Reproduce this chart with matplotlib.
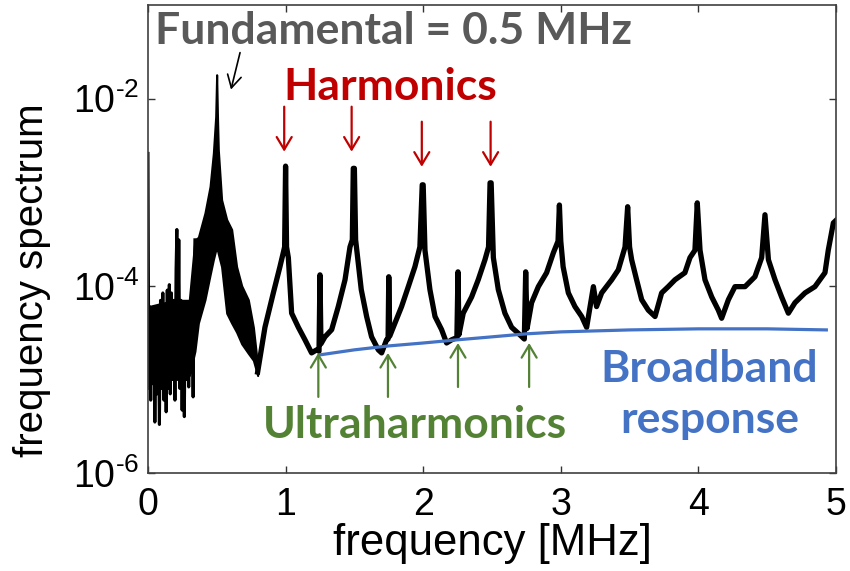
import numpy as np
import matplotlib
matplotlib.use("Agg")
import matplotlib.pyplot as plt

plt.rcParams['font.family'] = ['Liberation Sans', 'DejaVu Sans']
plt.rcParams['mathtext.default'] = 'regular'

# noisy low-frequency part of the spectrum (zigzag through the noise)
noise_f = [0.0, 0.006, 0.012, 0.02, 0.028, 0.036, 0.044, 0.05, 0.058, 0.066,
           0.075, 0.083, 0.091, 0.1, 0.108, 0.116, 0.124, 0.132, 0.14, 0.148,
           0.155, 0.162, 0.17, 0.178, 0.188, 0.196, 0.204, 0.21, 0.216, 0.224,
           0.232, 0.24, 0.248, 0.256, 0.264, 0.272, 0.28, 0.288, 0.296, 0.304,
           0.312, 0.32, 0.328, 0.336, 0.341]
noise_v = [2.6e-3, 8e-6, 6e-5, 6e-6, 5.5e-5, 9e-6, 6e-5, 3.5e-6, 5e-5, 7e-6,
           5.1e-5, 3.3e-6, 7e-5, 8e-6, 8.4e-5, 6e-6, 6e-5, 4.5e-6, 9e-5, 8e-6,
           1.03e-4, 7e-6, 8.4e-5, 1e-5, 7e-5, 6e-6, 1.5e-4, 4.0e-4, 1e-5, 3.1e-4,
           8e-6, 7e-5, 4.7e-6, 6.6e-5, 4.0e-6, 6.6e-5, 1e-5, 5.1e-5, 8.3e-6, 6e-5,
           1.2e-5, 5.5e-5, 6.5e-6, 1e-4, 3.1e-4]

# envelope of the broad noisy band around the fundamental
band_f = [0.005, 0.1, 0.2, 0.3, 0.341, 0.366, 0.414, 0.451, 0.475, 0.492,
          0.499, 0.505, 0.511, 0.535, 0.572, 0.608, 0.644, 0.681, 0.729, 0.766, 0.797]
band_hi = [6e-5, 6.5e-5, 7e-5, 7e-5, 3.1e-4, 3.3e-4, 6.0e-4, 1.15e-3, 2.6e-3, 6.4e-3,
           1.8e-2, 6.4e-3, 2.85e-3, 8.3e-4, 5.1e-4, 4.0e-4, 1.6e-4, 1.0e-4, 7.1e-5, 3.6e-5, 1.4e-5]
band_lo = [1.0e-5, 1.0e-5, 1.0e-5, 1.1e-5, 2.0e-5, 4.0e-5, 7.1e-5, 1.3e-4, 1.9e-4, 2.4e-4,
           2.5e-4, 2.4e-4, 2.2e-4, 1.6e-4, 5.1e-5, 4.0e-5, 3.2e-5, 2.4e-5, 1.9e-5, 1.6e-5, 1.1e-5]

# spectrum from 0.8 MHz upwards
freq = [0.797, 0.85, 0.911, 0.959, 0.983, 0.993, 1.0, 1.007, 1.02, 1.044,
        1.093, 1.141, 1.189, 1.226, 1.243, 1.25, 1.257, 1.286, 1.335, 1.383,
        1.432, 1.468, 1.485, 1.492, 1.5, 1.509, 1.55, 1.589, 1.625, 1.674,
        1.698, 1.734, 1.745, 1.75, 1.757, 1.795, 1.843, 1.892, 1.94, 1.976,
        1.993, 2.0, 2.013, 2.049, 2.086, 2.134, 2.17, 2.207, 2.245, 2.253,
        2.26, 2.291, 2.352, 2.4, 2.449, 2.475, 2.486, 2.494, 2.51, 2.546,
        2.594, 2.643, 2.692, 2.735, 2.745, 2.755, 2.788, 2.837, 2.897, 2.946,
        2.98, 2.99, 3.0, 3.017, 3.055, 3.103, 3.152, 3.188, 3.237, 3.26,
        3.297, 3.37, 3.418, 3.467, 3.486, 3.5, 3.515, 3.551, 3.588, 3.636,
        3.685, 3.733, 3.781, 3.83, 3.902, 3.939, 3.975, 3.992, 4.012, 4.048,
        4.097, 4.145, 4.169, 4.218, 4.266, 4.339, 4.411, 4.46, 4.484, 4.509,
        4.557, 4.605, 4.654, 4.702, 4.775, 4.847, 4.92, 4.944, 4.981, 5.0]
spectrum = [1.2e-5, 3.6e-5, 8.4e-5, 1.6e-4, 2.25e-4, 2.6e-4, 1.9e-3, 2.6e-4, 2.0e-4, 5.1e-5,
            3.6e-5, 2.65e-5, 1.92e-5, 2.07e-5, 2.0e-5, 1.31e-4, 2.4e-5, 2.85e-5, 3.4e-5, 6.0e-5,
            1.16e-4, 2.6e-4, 3.1e-4, 1.8e-3, 1.8e-3, 3.1e-4, 9.1e-5, 4.7e-5, 2.85e-5, 2.07e-5,
            1.92e-5, 2.65e-5, 2.7e-5, 1.25e-4, 2.9e-5, 4.0e-5, 6.0e-5, 9.8e-5, 1.6e-4, 2.6e-4,
            1.2e-3, 1.2e-3, 2.4e-4, 9.1e-5, 4.7e-5, 3.4e-5, 2.45e-5, 2.65e-5, 2.8e-5, 1.41e-4,
            3.0e-5, 5.1e-5, 7.6e-5, 1.16e-4, 1.9e-4, 2.6e-4, 1.26e-3, 1.26e-3, 2.0e-4, 9.1e-5,
            5.1e-5, 3.6e-5, 3.1e-5, 2.7e-5, 1.41e-4, 3.5e-5, 6.6e-5, 9.8e-5, 1.38e-4, 2.25e-4,
            3.0e-4, 7.3e-4, 3.0e-4, 1.6e-4, 8.4e-5, 6.0e-5, 4.7e-5, 3.6e-5, 9.8e-5, 6.0e-5,
            8.4e-5, 1.16e-4, 1.48e-4, 2.6e-4, 7.0e-4, 2.6e-4, 1.9e-4, 1.16e-4, 7.1e-5, 5.5e-5,
            4.7e-5, 8.4e-5, 9.8e-5, 1.16e-4, 1.38e-4, 2.0e-4, 2.4e-4, 7.7e-4, 2.4e-4, 1.16e-4,
            7.6e-5, 5.5e-5, 4.5e-5, 7.1e-5, 9.8e-5, 9.8e-5, 1.25e-4, 2.0e-4, 5.75e-4, 1.9e-4,
            1.16e-4, 7.6e-5, 5.1e-5, 6.6e-5, 8.4e-5, 9.8e-5, 1.38e-4, 2.4e-4, 4.7e-4, 5.0e-4]

# broadband floor
bb_f = [1.25, 1.5, 1.75, 2.0, 2.25, 2.5, 2.75, 3.0, 3.5, 4.0, 4.5, 4.93]
bb_v = [1.83e-5, 2.07e-5, 2.28e-5, 2.45e-5, 2.65e-5, 2.85e-5, 3.07e-5, 3.22e-5,
        3.38e-5, 3.47e-5, 3.47e-5, 3.38e-5]

# arrow positions (MHz) with tail / head levels
harm_f = [0.99, 1.48, 1.99, 2.49]
harm_tail = [8.2e-3, 8.2e-3, 5.67e-3, 5.67e-3]
harm_head = [2.71e-3, 2.71e-3, 1.87e-3, 1.87e-3]
ultra_f = [1.238, 1.744, 2.253, 2.77]
ultra_tail = [6.5e-6, 6.5e-6, 8.3e-6, 8.3e-6]
ultra_head = [1.92e-5, 1.92e-5, 2.45e-5, 2.45e-5]

ytick_vals = [1e-6, 1e-4, 1e-2]
ytick_labels = ['10$^{\u20106}$', '10$^{\u20104}$', '10$^{\u20102}$']

red = '#C00000'
green = '#548235'
blue = '#4472C4'
gray = '#595959'

fig = plt.figure(figsize=(8.5, 5.71), dpi=100)
ax = fig.add_axes([0.1741, 0.1716, 0.8094, 0.8196])

ax.fill_between(band_f, band_lo, band_hi, color='black', lw=1.5)
ax.plot(noise_f, noise_v, color='black', lw=2.2)
ax.plot(freq, spectrum, color='black', lw=3.8)
ax.plot(bb_f, bb_v, color=blue, lw=2.3)

ax.set_yscale('log')
ax.set_xlim(0, 5)
ax.set_ylim(1e-6, 1e-1)
ax.set_xticks([0, 1, 2, 3, 4, 5])
ax.set_yticks(ytick_vals)
ax.set_yticklabels(ytick_labels)
ax.minorticks_off()
ax.tick_params(direction='in', length=5, width=1.0, top=True, right=True,
               labelsize=27, color='#333333')
ax.tick_params(axis='x', pad=10)
ax.tick_params(axis='y', pad=6)
for s in ax.spines.values():
    s.set_color('#404040')
    s.set_linewidth(1.2)

ax.set_xlabel('frequency [MHz]', fontsize=31.5, labelpad=0)
fig.text(32 / 850, 1 - 280 / 571, 'frequency spectrum', fontsize=29,
         rotation=90, ha='center', va='center')

lab = dict(family=['Lato', 'DejaVu Sans'], fontweight='bold', fontsize=32)

ax.text(0.05, 3.8e-2, 'Fundamental = 0.5 MHz', color=gray, ha='left',
        va='baseline', **lab)
ax.annotate('', xy=(0.603, 1.25e-2), xytext=(0.669, 3.1e-2),
            arrowprops=dict(arrowstyle='->,head_length=0.45,head_width=0.25',
                            color='black', lw=1.2, mutation_scale=20,
                            shrinkA=0, shrinkB=0))

ax.text(1.76, 9.75e-3, 'Harmonics', color=red, ha='center', va='baseline', **lab)
for x, t, h in zip(harm_f, harm_tail, harm_head):
    ax.annotate('', xy=(x, h), xytext=(x, t),
                arrowprops=dict(arrowstyle='->,head_length=0.45,head_width=0.27',
                                color=red, lw=1.6, mutation_scale=20,
                                shrinkA=0, shrinkB=0))

ax.text(1.94, 2.37e-6, 'Ultraharmonics', color=green, ha='center', va='baseline', **lab)
for x, t, h in zip(ultra_f, ultra_tail, ultra_head):
    ax.annotate('', xy=(x, h), xytext=(x, t),
                arrowprops=dict(arrowstyle='->,head_length=0.45,head_width=0.27',
                                color=green, lw=1.6, mutation_scale=20,
                                shrinkA=0, shrinkB=0))

ax.text(4.08, 9.4e-6, 'Broadband', color=blue, ha='center', va='baseline', **lab)
ax.text(4.08, 2.68e-6, 'response', color=blue, ha='center', va='baseline', **lab)

fig.savefig('out.png', dpi=100)
